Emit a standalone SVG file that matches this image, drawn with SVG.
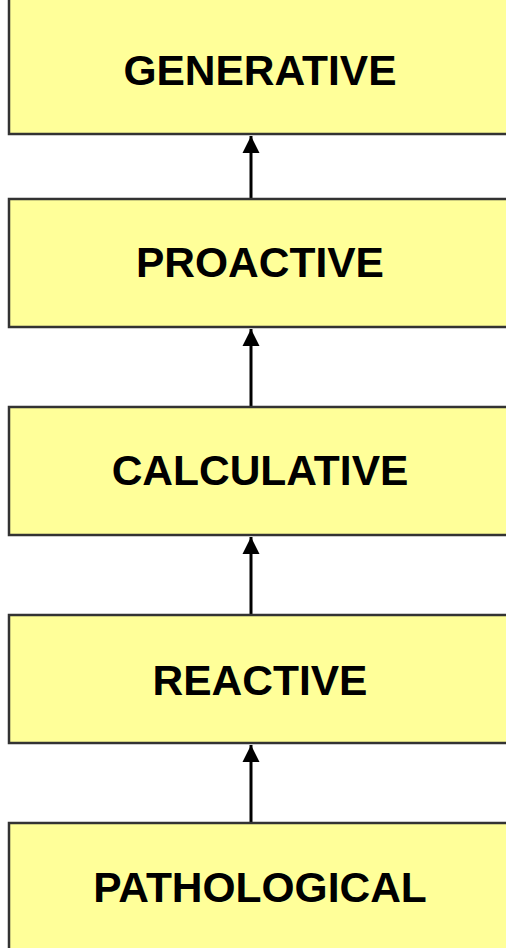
<svg xmlns="http://www.w3.org/2000/svg" width="506" height="948" viewBox="0 0 506 948">
  <style>
    .box { fill: #FFFF99; stroke: #333333; stroke-width: 2.5; }
    .label { font-family: "Liberation Sans", Arial, sans-serif; font-weight: bold; font-size: 42.5px; fill: #000000; text-anchor: middle; }
    .link { stroke: #000000; stroke-width: 3; fill: none; }
  </style>
  <defs>
    <marker id="arrowhead" markerUnits="userSpaceOnUse" markerWidth="20" markerHeight="20" refX="17" refY="9" orient="auto">
      <path d="M0,0.5 L17,9 L0,17.5 Z" fill="#000000"/>
    </marker>
  </defs>

  <rect width="506" height="948" fill="#FFFFFF"/>

  <g id="connectors">
    <line class="link" x1="251" y1="199" x2="251" y2="136" marker-end="url(#arrowhead)"/>
    <line class="link" x1="251" y1="407" x2="251" y2="329" marker-end="url(#arrowhead)"/>
    <line class="link" x1="251" y1="615" x2="251" y2="537" marker-end="url(#arrowhead)"/>
    <line class="link" x1="251" y1="823" x2="251" y2="745" marker-end="url(#arrowhead)"/>
  </g>

  <g id="generative">
    <rect class="box" x="9" y="-10" width="510" height="144"/>
    <text class="label" x="260" y="85">GENERATIVE</text>
  </g>

  <g id="proactive">
    <rect class="box" x="9" y="199" width="510" height="128"/>
    <text class="label" x="260" y="277">PROACTIVE</text>
  </g>

  <g id="calculative">
    <rect class="box" x="9" y="407" width="510" height="128"/>
    <text class="label" x="260" y="485">CALCULATIVE</text>
  </g>

  <g id="reactive">
    <rect class="box" x="9" y="615" width="510" height="128"/>
    <text class="label" x="260" y="695">REACTIVE</text>
  </g>

  <g id="pathological">
    <rect class="box" x="9" y="823" width="510" height="140"/>
    <text class="label" x="260" y="902">PATHOLOGICAL</text>
  </g>
</svg>
